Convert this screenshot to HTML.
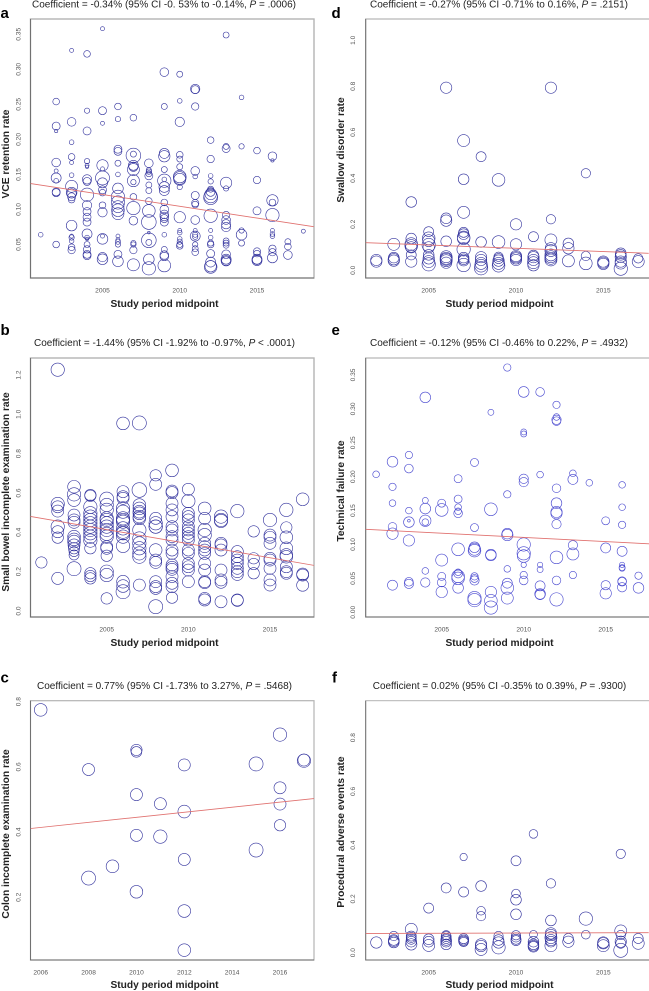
<!DOCTYPE html>
<html lang="en">
<head>
<meta charset="utf-8">
<title>Meta-regression bubble plots</title>
<style>
html,body{margin:0;padding:0;background:#fff;width:649px;height:991px;overflow:hidden}
svg{display:block;filter:blur(0.3px)}
text{font-family:"Liberation Sans",Arial,sans-serif}
</style>
</head>
<body>
<svg id="figure" xmlns="http://www.w3.org/2000/svg" width="649" height="991" viewBox="0 0 649 991"></svg>
<script>
/* Panel a: VCE retention */
const aYears=[2001,2002,2003,2004,2005,2006,2007,2008,2009,2010,2011,2012,2013,2014,2015,2016,2017,2018];
const aCounts=[1,10,17,20,15,18,15,15,20,17,16,18,16,5,8,11,3,1];
const aRates=[.064,
.254,.219,.212,.167,.155,.145,.141,.125,.124,.05,
.327,.225,.196,.175,.167,.149,.133,.124,.123,.118,.114,.077,.062,.06,.055,.046,.042,
.322,.241,.212,.169,.163,.161,.143,.14,.121,.106,.097,.089,.082,.065,.06,.058,.05,.043,.036,.034,
.358,.241,.223,.163,.158,.145,.138,.128,.124,.106,.096,.062,.058,.032,.029,
.247,.229,.186,.183,.166,.15,.13,.118,.11,.104,.099,.094,.062,.057,.054,.05,.036,.026,
.231,.179,.177,.163,.161,.157,.141,.139,.118,.102,.084,.052,.05,.042,.021,
.166,.156,.154,.151,.148,.135,.127,.112,.098,.082,.067,.056,.053,.029,.016,
.296,.247,.18,.176,.157,.143,.141,.132,.127,.11,.1,.093,.09,.087,.082,.064,.043,.035,.033,.02,
.293,.255,.225,.178,.172,.161,.147,.145,.143,.132,.089,.07,.067,.058,.054,.05,.048,
.272,.271,.247,.155,.147,.12,.109,.107,.085,.07,.064,.062,.061,.05,.044,.039,
.199,.172,.148,.14,.129,.125,.122,.119,.117,.091,.07,.06,.052,.05,.037,.025,.019,.018,
.349,.19,.187,.138,.13,.092,.085,.079,.075,.055,.052,.049,.036,.029,.027,.026,
.26,.19,.07,.064,.052,
.184,.142,.098,.04,.037,.029,.027,.028,
.176,.17,.113,.11,.092,.07,.065,.062,.044,.039,.031,
.054,.047,.035,
.069];
const aWeights=[7,
10,12,5,13,6,15,7,12,12,10,
6,13,7,10,6,7,18,16,14,12,10,16,6,8,7,10,11,
10,8,12,8,6,5,14,12,20,14,12,12,12,15,7,5,9,11,12,12,
6,12,6,17,6,21,15,12,10,10,14,6,16,14,16,
10,8,12,12,9,7,16,20,20,18,19,18,6,6,8,8,12,16,
10,9,22,15,14,18,18,8,10,20,13,8,8,11,18,
13,8,8,9,12,9,9,10,19,22,4,22,9,16,20,
13,9,15,17,9,7,20,16,15,10,13,13,13,12,12,7,9,13,13,19,
9,7,14,10,9,9,19,19,18,8,17,6,7,7,8,9,10,
14,12,11,13,7,12,11,10,13,6,8,15,8,8,9,10,
10,11,7,8,9,13,17,20,21,20,6,7,9,10,12,15,17,19,
9,9,12,17,8,11,13,14,14,9,9,9,13,15,15,14,
7,8,8,16,9,
10,11,12,11,10,15,15,14,
13,5,17,10,20,6,7,7,11,11,15,
9,10,13,
6];
const aLineYears=[2000.35,2018.67];
const aLineRates=[.137,.0754];
const aXTicks=['2005','2010','2015'];
const aYTicks=['0.05','0.10','0.15','0.20','0.25','0.30','0.35'];

/* Panel d: swallow disorder */
const dYears=[2002,2003,2004,2005,2006,2007,2008,2009,2010,2011,2012,2013,2014,2015,2016,2017];
const dCounts=[2,4,7,9,9,12,7,7,6,6,9,3,3,3,6,2];
const dRates=[.045,.038,
.113,.055,.048,.042,
.297,.138,.114,.106,.1,.067,.038,
.168,.139,.129,.11,.1,.067,.052,.038,.026,
.794,.226,.216,.126,.059,.052,.048,.042,.033,
.564,.396,.252,.165,.157,.143,.139,.091,.055,.048,.042,.023,
.494,.123,.057,.045,.03,.02,.009,
.393,.123,.059,.051,.042,.03,.02,
.2,.113,.062,.057,.052,.045,
.146,.064,.057,.045,.033,.022,
.794,.222,.132,.096,.086,.067,.059,.052,.045,
.117,.096,.041,
.422,.062,.03,
.038,.033,.028,
.074,.067,.059,.038,.03,.007,
.052,.038];
const dWeights=[17,17,
18,16,17,17,
16,16,19,19,17,15,17,
15,19,18,20,17,16,17,18,20,
17,16,17,16,18,18,18,18,17,
18,16,18,15,16,19,19,20,16,16,16,20,
15,16,17,17,18,19,20,
19,19,14,15,17,18,19,
17,17,17,17,17,17,
15,16,17,17,18,17,
17,14,18,17,18,18,18,18,18,
16,17,18,
14,14,19,
17,17,17,
16,16,17,17,17,20,
14,18];
const dLineYears=[2001.4,2017.6];
const dLineRates=[.12,.074];
const dXTicks=['2005','2010','2015'];
const dYTicks=['0.0','0.2','0.4','0.6','0.8','1.0'];

/* Panel b: small bowel incomplete examination */
const bYears=[2001,2002,2003,2004,2005,2006,2007,2008,2009,2010,2011,2012,2013,2014,2015,2016,2017];
const bCounts=[1,8,14,16,16,17,15,13,19,16,14,10,10,4,9,9,4];
const bRates=[.247,
1.227,.544,.53,.508,.429,.403,.373,.166,
.632,.593,.564,.488,.463,.451,.378,.364,.353,.336,.319,.302,.285,.215,
.59,.586,.53,.497,.48,.463,.446,.429,.412,.395,.378,.358,.319,.192,.178,.166,
.569,.539,.514,.471,.463,.446,.429,.412,.392,.378,.327,.319,.281,.2,.183,.064,
.954,.607,.581,.573,.522,.505,.471,.463,.454,.42,.403,.395,.378,.331,.149,.127,.098,
.956,.615,.539,.522,.505,.497,.48,.471,.412,.369,.344,.319,.293,.276,.132,
.69,.644,.471,.446,.429,.429,.31,.259,.247,.149,.124,.115,.022,
.715,.61,.602,.547,.514,.48,.429,.412,.378,.361,.31,.293,.234,.222,.212,.175,.141,.124,.068,
.619,.559,.497,.48,.463,.429,.412,.395,.378,.361,.31,.293,.242,.225,.208,.149,
.522,.471,.412,.386,.344,.327,.31,.293,.242,.208,.149,.144,.064,.056,
.48,.463,.458,.344,.336,.31,.208,.158,.146,.047,
.508,.302,.276,.259,.242,.217,.2,.186,.056,.054,
.405,.268,.239,.192,
.463,.386,.375,.344,.268,.259,.217,.158,.132,
.514,.425,.375,.319,.285,.276,.225,.2,.192,
.568,.188,.183,.131];
const bWeights=[17,
20,20,18,18,20,18,17,18,
19,20,19,18,18,18,19,19,19,18,17,15,15,21,
17,17,20,20,20,20,20,20,20,20,20,20,17,17,17,17,
21,20,20,20,20,20,20,20,20,20,18,18,17,20,20,17,
19,18,18,18,20,20,20,20,20,20,20,20,20,20,19,19,21,
21,22,19,19,19,19,19,19,20,20,20,20,20,20,18,
17,18,18,20,20,20,19,18,18,18,18,18,21,
19,18,18,18,18,18,18,18,18,18,18,18,18,18,18,18,18,18,17,
18,20,18,18,18,18,18,18,18,18,18,18,18,18,18,18,
19,18,20,20,18,18,18,18,18,18,18,18,18,18,
20,20,20,18,18,18,18,18,18,18,
20,18,18,18,18,18,18,18,18,18,
17,17,17,17,
20,18,18,18,18,18,18,18,18,
20,17,19,19,19,19,18,18,18,
19,18,18,18];
const bLineYears=[2000.33,2017.69];
const bLineRates=[.481,.232];
const bXTicks=['2005','2010','2015'];
const bYTicks=['0.0','0.2','0.4','0.6','0.8','1.0','1.2'];

/* Panel e: technical failure */
const eYears=[2001,2002,2003,2004,2005,2006,2007,2008,2009,2010,2011,2012,2013,2014,2015,2016,2017];
const eCounts=[1,6,8,7,6,11,10,7,8,11,7,12,5,1,4,10,2];
const eRates=[.2035,
.222,.185,.161,.126,.116,.04,
.232,.212,.15,.135,.133,.106,.045,.042,
.317,.165,.153,.135,.133,.061,.044,
.161,.151,.077,.053,.044,.03,
.197,.167,.155,.149,.146,.093,.059,.057,.053,.05,.036,
.221,.125,.096,.093,.091,.053,.05,.047,.021,.018,
.295,.152,.085,.084,.03,.017,.007,
.361,.174,.116,.114,.064,.043,.036,.021,
.325,.266,.263,.197,.192,.1,.087,.083,.07,.055,.047,
.325,.203,.07,.063,.039,.027,.026,
.306,.288,.284,.282,.183,.161,.148,.146,.13,.081,.047,.019,
.205,.196,.099,.086,.055,
.191,
.135,.095,.04,.028,
.188,.155,.129,.09,.07,.066,.065,.046,.045,.037,
.054,.036];
const eWeights=[10,
16,11,10,13,17,15,
11,13,10,4,16,17,13,14,
16,9,16,17,10,10,14,
12,19,18,12,13,17,
12,12,10,10,13,19,10,13,19,19,16,
12,12,16,18,19,11,12,14,20,20,
9,19,16,16,17,19,20,
11,11,16,17,10,15,19,18,
16,9,9,14,14,20,20,19,8,11,13,
13,10,8,9,15,16,15,
11,10,14,13,13,16,17,17,14,19,13,20,
10,15,14,18,11,
10,
12,15,14,17,
10,10,11,15,8,9,9,13,13,14,
11,16];
const eLineYears=[2000.37,2017.64];
const eLineRates=[.1224,.101];
const eXTicks=['2005','2010','2015'];
const eYTicks=['0.00','0.05','0.10','0.15','0.20','0.25','0.30','0.35'];

/* Panel c: colon incomplete examination */
const cYears=[2006,2008,2009,2010,2011,2012,2015,2016,2017];
const cCounts=[1,2,1,5,2,5,2,4,2];
const cRates=[.775,.592,.259,.295,.652,.646,.515,.39,.217,.487,.386,.606,.463,.316,.158,.038,.609,.345,.699,.536,.486,.421,.621,.619];
const cWeights=[19,18,21,19,17,16,18,18,19,18,20,18,19,18,19,19,21,21,20,18,18,17,18,20];
const cLineYears=[2005.58,2017.42];
const cLineRates=[.411,.503];
const cXTicks=['2006','2008','2010','2012','2014','2016'];
const cYTicks=['0.2','0.4','0.6','0.8'];

/* Panel f: procedural adverse events */
const fYears=[2002,2003,2004,2005,2006,2007,2008,2009,2010,2011,2012,2013,2014,2015,2016,2017];
const fCounts=[1,4,6,4,7,6,6,4,8,6,8,2,2,3,6,2];
const fRates=[.038,
.062,.047,.043,.038,
.087,.062,.057,.05,.041,.031,
.166,.05,.041,.027,
.241,.065,.06,.053,.047,.041,.031,
.356,.226,.052,.047,.043,.04,
.248,.156,.136,.031,.025,.012,
.062,.047,.038,.02,
.342,.22,.197,.143,.065,.057,.05,.045,
.442,.068,.041,.031,.026,.022,
.258,.12,.072,.066,.056,.047,.041,.026,
.053,.041,
.127,.067,
.038,.035,.026,
.368,.081,.066,.041,.035,.009,
.053,.035];
const fWeights=[17,
14,16,16,16,
18,15,15,15,16,17,
15,16,16,18,
15,14,15,15,16,16,16,
11,15,15,15,15,14,
16,13,14,17,17,18,
14,16,17,20,
15,13,16,16,14,14,15,15,
13,12,16,16,16,16,
14,16,17,17,18,17,16,18,
15,17,
20,13,
17,17,18,
14,18,14,17,15,21,
15,18];
const fLineYears=[2001.4,2017.6];
const fLineRates=[.0716,.0745];
const fXTicks=['2005','2010','2015'];
const fYTicks=['0.0','0.2','0.4','0.6','0.8'];

const NS='http://www.w3.org/2000/svg';
const figure=document.getElementById('figure');

function linearScale(d0,r0,d1,r1){
  return function(v){return r0+(v-d0)*(r1-r0)/(d1-d0);};
}
function bubbleRadius(w){return w/3;}
function make(tag,attrs,parent){
  const el=document.createElementNS(NS,tag);
  for(const k in attrs){el.setAttribute(k,attrs[k]);}
  parent.appendChild(el);
  return el;
}

function drawPanel(p){
  const g=make('g',{},figure);
  
  
  const x=linearScale(p.xCal[0],p.xCal[1],p.xCal[2],p.xCal[3]);
  const y=linearScale(p.yCal[0],p.yCal[1],p.yCal[2],p.yCal[3]);
  const b=p.box;

  const letter=make('text',{x:p.letterX,y:p.letterY,'font-size':15,'font-weight':'bold',fill:'#000'},g);
  letter.textContent=p.letter;
  
  

  const title=make('text',{x:p.titleX,y:p.titleY,'font-size':10.3,fill:'#222','text-anchor':'middle',textLength:p.titleW,lengthAdjust:'spacingAndGlyphs'},g);
  
  
  title.appendChild(document.createTextNode(p.title[0]));
  const ital=make('tspan',{'font-style':'italic'},title);
  ital.textContent='P';
  title.appendChild(document.createTextNode(p.title[1]));

  const frame=make('rect',{x:b[0],y:b[1],width:b[2]-b[0],height:b[3]-b[1],fill:'#fff',stroke:'#b4b4b4','stroke-width':p.frameW},g);
  
  
  const edge=make('path',{d:'M'+b[0]+' '+b[1]+'V'+b[3]+'H'+b[2],fill:'none',stroke:'#6a6a6a','stroke-width':.9},g);
  
  

  p.xTicks.forEach(function(label){
    const t=make('text',{x:x(parseFloat(label)),y:p.xTickY,'font-size':6.6,fill:'#555','text-anchor':'middle'},g);
    t.textContent=label;
    
    
  });
  p.yTicks.forEach(function(label){
    const py=y(parseFloat(label));
    const t=make('text',{x:0,y:0,'font-size':6.6,fill:'#555','text-anchor':'middle',transform:'translate('+p.yTickX+' '+py+') rotate(-90)'},g);
    t.textContent=label;
    
    
  });

  const xTitle=make('text',{x:p.xTitleX,y:p.xTitleY,'font-size':10.2,'font-weight':'bold',fill:'#222','text-anchor':'middle'},g);
  xTitle.textContent='Study period midpoint';
  
  
  const yTitle=make('text',{x:0,y:0,'font-size':10.2,'font-weight':'bold',fill:'#222','text-anchor':'middle',transform:'translate('+p.yTitleX+' '+p.yTitleY+') rotate(-90)'},g);
  yTitle.textContent=p.yTitle;
  
  

  let idx=0;
  p.years.forEach(function(year,yi){
    for(let n=0;n<p.counts[yi];n++,idx++){
      const c=make('circle',{cx:x(year),cy:y(p.rates[idx]),r:bubbleRadius(p.weights[idx]),fill:'none',stroke:p.color,'stroke-width':.62},g);
      
      
    }
  });

  const fit=make('line',{x1:x(p.lineYears[0]),y1:y(p.lineRates[0]),x2:x(p.lineYears[1]),y2:y(p.lineRates[1]),stroke:'#e0716f','stroke-width':.85},g);
  
  
}

drawPanel({letter:'a',letterX:0.5,letterY:18,title:['Coefficient = -0.34% (95% CI -0. 53% to -0.14%, ',' = .0006)'],titleX:164,titleY:7.5,titleW:264,
  box:[30.5,19,314,278],frameW:1.4,xCal:[2005,102.5,2015,257],yCal:[.05,244.5,.35,34.3],
  xTicks:aXTicks,yTicks:aYTicks,xTickY:292.5,yTickX:20.5,xTitleX:164.5,xTitleY:307,yTitle:'VCE retention rate',yTitleX:9,yTitleY:154,
  years:aYears,counts:aCounts,rates:aRates,weights:aWeights,lineYears:aLineYears,lineRates:aLineRates,color:'#34349e'});

drawPanel({letter:'d',letterX:331.5,letterY:18,title:['Coefficient = -0.27% (95% CI -0.71% to 0.16%, ',' = .2151)'],titleX:499,titleY:7.5,titleW:258,
  box:[365.7,19,652,278],frameW:1.2,xCal:[2005,428.7,2015,603.3],yCal:[0,270.3,1,40.3],
  xTicks:dXTicks,yTicks:dYTicks,xTickY:292.5,yTickX:355,xTitleX:499.5,xTitleY:307,yTitle:'Swallow disorder rate',yTitleX:344,yTitleY:150,
  years:dYears,counts:dCounts,rates:dRates,weights:dWeights,lineYears:dLineYears,lineRates:dLineRates,color:'#34349e'});

drawPanel({letter:'b',letterX:0.5,letterY:335,title:['Coefficient = -1.44% (95% CI -1.92% to -0.97%, ',' < .0001)'],titleX:164.5,titleY:346,titleW:261,
  box:[30.5,358,314,617],frameW:1.4,xCal:[2005,106.7,2015,270],yCal:[0,611,1.2,375],
  xTicks:bXTicks,yTicks:bYTicks,xTickY:631.5,yTickX:20.5,xTitleX:164.5,xTitleY:646,yTitle:'Small bowel incomplete examination rate',yTitleX:9,yTitleY:492,
  years:bYears,counts:bCounts,rates:bRates,weights:bWeights,lineYears:bLineYears,lineRates:bLineRates,color:'#34349e'});

drawPanel({letter:'e',letterX:331.5,letterY:335,title:['Coefficient = -0.12% (95% CI -0.46% to 0.22%, ',' = .4932)'],titleX:499,titleY:346,titleW:258,
  box:[365.7,358,652,617],frameW:1.2,xCal:[2005,441.7,2015,605.7],yCal:[0,612.3,.35,375],
  xTicks:eXTicks,yTicks:eYTicks,xTickY:631.5,yTickX:355,xTitleX:499.5,xTitleY:646,yTitle:'Technical failure rate',yTitleX:344,yTitleY:491,
  years:eYears,counts:eCounts,rates:eRates,weights:eWeights,lineYears:eLineYears,lineRates:eLineRates,color:'#4a4ad0'});

drawPanel({letter:'c',letterX:0.5,letterY:682.5,title:['Coefficient = 0.77% (95% CI -1.73% to 3.27%, ',' = .5468)'],titleX:164.5,titleY:689,titleW:255,
  box:[30.5,700.7,314,960],frameW:1.2,xCal:[2006,40.7,2016,280],yCal:[.2,897.3,.8,701.7],
  xTicks:cXTicks,yTicks:cYTicks,xTickY:974.5,yTickX:20.5,xTitleX:164.5,xTitleY:988,yTitle:'Colon incomplete examination rate',yTitleX:9,yTitleY:834,
  years:cYears,counts:cCounts,rates:cRates,weights:cWeights,lineYears:cLineYears,lineRates:cLineRates,color:'#34349e'});

drawPanel({letter:'f',letterX:332,letterY:682.5,title:['Coefficient = 0.02% (95% CI -0.35% to 0.39%, ',' = .9300)'],titleX:499.5,titleY:689,titleW:253.5,
  box:[365.7,700.7,652,960],frameW:1,xCal:[2005,428.7,2015,603.3],yCal:[0,952.7,.8,737.7],
  xTicks:fXTicks,yTicks:fYTicks,xTickY:974.5,yTickX:355,xTitleX:499.5,xTitleY:988,yTitle:'Procedural adverse events rate',yTitleX:344,yTitleY:832,
  years:fYears,counts:fCounts,rates:fRates,weights:fWeights,lineYears:fLineYears,lineRates:fLineRates,color:'#34349e'});
</script>
</body>
</html>
